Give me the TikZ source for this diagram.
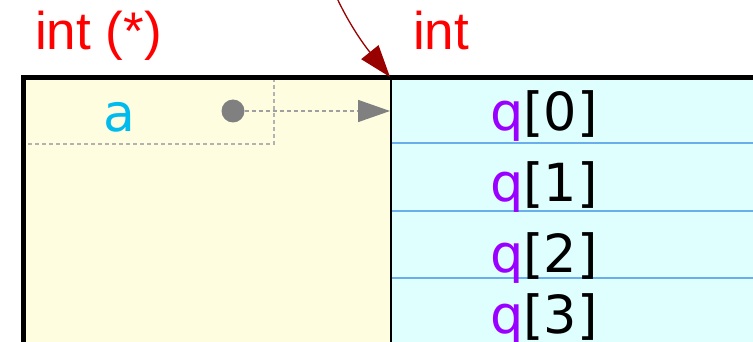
\documentclass[tikz,border=0pt]{standalone}
\usepackage{fontspec}
\setmainfont{DejaVu Sans}
\newfontfamily\typefont{Liberation Sans}
\usetikzlibrary{positioning,arrows.meta}
\definecolor{ptrfill}{HTML}{FFFDDF}
\definecolor{arrfill}{HTML}{DFFFFF}
\definecolor{rowline}{HTML}{6AAEEE}
\definecolor{varblue}{HTML}{00BBEE}
\definecolor{idxviolet}{HTML}{9A00FF}
\definecolor{refred}{HTML}{990000}

\begin{document}
\begin{tikzpicture}[x=1pt,y=-1pt,
			typelbl/.style={text=red,font=\typefont\fontsize{53}{58}\selectfont,anchor=base west,inner sep=0},
			elem/.style={font=\fontsize{52.5}{58}\selectfont,anchor=base,inner sep=0},
			ptrline/.style={draw=gray!75,line width=1.5,dash pattern=on 4pt off 3pt,-{Triangle[length=32pt,width=22pt,color=gray]}},
			guide/.style={draw=gray!60,line width=1.2,dash pattern=on 4pt off 3pt},
			refarrow/.style={draw=refred,line width=1.3,-{Triangle[length=32pt,width=22pt]}}]
			\useasboundingbox (0,0) rectangle (753,342);
			\clip (0,0) rectangle (753,342);
			\fill[ptrfill] (23,77) rectangle (391,360);
			\fill[arrfill] (391,77) rectangle (780,360);
			\foreach \y in {143,211,278}
				\draw[rowline,line width=1.4] (392,\y) -- (780,\y);
			\draw[line width=5] (23.5,360) -- (23.5,77.5) -- (780,77.5);
			\draw[line width=2.5] (391,77.5) -- (391,360);

			\node (ptrtype) [typelbl] at (35,50) {int (*)};
			\node (elemtype) [typelbl] at (413,50) {int};

			\node (avar) [elem,text=varblue,font=\fontsize{52}{58}\selectfont] at (119,132) {a};
			\draw[guide] (28,144) -- (274,144) -- (274,80);
			\node (adot) [circle,fill=gray,inner sep=0,minimum size=23] at (233,111) {};
			\coordinate (qstart) at (390,111);
			\draw[ptrline] (adot) -- (qstart);

			\foreach \i/\y in {0/131,1/202,2/272,3/333}
				\node (q\i) [elem] at (544,\y) {\textcolor{idxviolet}{q}[\i]};

			\coordinate (refsrc) at (322,-40);
			\coordinate (refdst) at (390,77);
			\draw[refarrow] (refsrc) .. controls (336,5) and (360,40) .. (refdst);
		\end{tikzpicture}
\end{document}
